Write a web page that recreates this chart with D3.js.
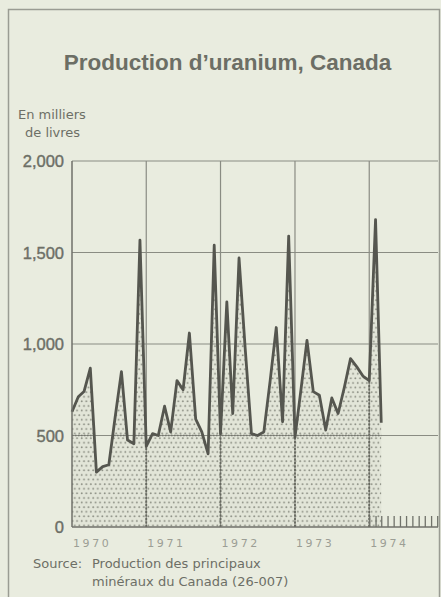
<!DOCTYPE html>
<html>
<head>
<meta charset="utf-8">
<script src="https://cdn.jsdelivr.net/npm/d3@7/dist/d3.min.js"></script>
<style>
  html, body { margin: 0; padding: 0; background: #e9ecdf; }
  svg { display: block; }
</style>
</head>
<body>
<div id="chart"></div>
<script>
// Production d'uranium, Canada — milliers de livres, données mensuelles

const annees = [1970, 1971, 1972, 1973, 1974];
const prod1970 = [630, 712, 740, 868, 300, 330, 340, 600, 849, 475, 455, 1568];
const prod1971 = [440, 510, 500, 660, 520, 800, 750, 1060, 590, 520, 400, 1540];
const prod1972 = [510, 1230, 620, 1470, 980, 510, 500, 520, 800, 1090, 575, 1590];
const prod1973 = [490, 765, 1020, 740, 720, 530, 705, 620, 765, 920, 875, 825];
const prod1974 = [800, 1680, 570];
const ticksY = [0, 500, 1000, 1500, 2000];

const largeur = 441, hauteur = 597;

// série mensuelle
const series = [prod1970, prod1971, prod1972, prod1973, prod1974];
const donnees = [];
series.forEach((vals, i) => {
  vals.forEach((v, m) => donnees.push({ date: new Date(Date.UTC(annees[i], m, 1)), valeur: v }));
});

const svg = d3.select("#chart").append("svg")
  .attr("width", largeur)
  .attr("height", hauteur);

const gris = "#6d6f66";

// cadre
svg.append("rect")
  .attr("x", 8.5).attr("y", 9.5)
  .attr("width", 431).attr("height", 600)
  .attr("fill", "#e9ecdf")
  .attr("stroke", "#9a9c93")
  .attr("stroke-width", 1.5);

// motif pointillé
const defs = svg.append("defs");
const motif = defs.append("pattern")
  .attr("id", "points")
  .attr("patternUnits", "userSpaceOnUse")
  .attr("width", 4.6).attr("height", 9.2);
motif.append("rect").attr("width", 4.6).attr("height", 9.2).attr("fill", "#e2e5d8");
motif.append("circle").attr("cx", 1.2).attr("cy", 1.2).attr("r", 0.95).attr("fill", "#8a8d82");
motif.append("circle").attr("cx", 3.5).attr("cy", 5.8).attr("r", 0.95).attr("fill", "#8a8d82");

const x = d3.scaleUtc()
  .domain([new Date(Date.UTC(1970, 0, 1)), new Date(Date.UTC(1975, 0, 1))])
  .range([72, 443.5]);
const y = d3.scaleLinear().domain([0, 2000]).range([527, 161]);
const xDroite = 438;

// surface
const aire = d3.area()
  .x(d => x(d.date))
  .y0(y(0))
  .y1(d => y(d.valeur));

defs.append("clipPath").attr("id", "clipAire")
  .append("path").attr("d", aire(donnees));

svg.append("path")
  .attr("d", aire(donnees))
  .attr("fill", "url(#points)");

// quadrillage
const grille = svg.append("g");
grille.selectAll(".h")
  .data(ticksY.filter(t => t > 0))
  .join("line")
  .attr("x1", 72).attr("x2", xDroite)
  .attr("y1", d => y(d)).attr("y2", d => y(d))
  .attr("stroke", "#8a8c83").attr("stroke-width", 1.2);

const anneesGrille = annees.slice(1).map(a => new Date(Date.UTC(a, 0, 1)));
grille.selectAll(".v")
  .data(anneesGrille)
  .join("line")
  .attr("x1", d => x(d)).attr("x2", d => x(d))
  .attr("y1", y(2000)).attr("y2", y(0))
  .attr("stroke", "#8a8c83").attr("stroke-width", 1.2);

// quadrillage renforcé dans la surface
const grilleDedans = svg.append("g").attr("clip-path", "url(#clipAire)");
grilleDedans.selectAll("line.v")
  .data(anneesGrille)
  .join("line")
  .attr("x1", d => x(d)).attr("x2", d => x(d))
  .attr("y1", y(2000)).attr("y2", y(0))
  .attr("stroke", "#66685f").attr("stroke-width", 1.8)
  .attr("stroke-dasharray", "2,1.5");
grilleDedans.selectAll("line.h")
  .data([500])
  .join("line")
  .attr("x1", 72).attr("x2", xDroite)
  .attr("y1", d => y(d)).attr("y2", d => y(d))
  .attr("stroke", "#75776f").attr("stroke-width", 1.4)
  .attr("stroke-dasharray", "1.5,1.5");

// courbe
svg.append("path")
  .datum(donnees)
  .attr("d", d3.line().x(d => x(d.date)).y(d => y(d.valeur)))
  .attr("fill", "none")
  .attr("stroke", "#55564f")
  .attr("stroke-width", 2.8)
  .attr("stroke-linejoin", "round");

// axes
svg.append("line")
  .attr("x1", 72).attr("x2", 72).attr("y1", y(2000)).attr("y2", y(0))
  .attr("stroke", "#6f716a").attr("stroke-width", 1.5);
svg.append("line")
  .attr("x1", 72).attr("x2", xDroite).attr("y1", y(0)).attr("y2", y(0))
  .attr("stroke", "#6f716a").attr("stroke-width", 1.5);

const axeY = svg.append("g")
  .attr("transform", "translate(64,0)")
  .call(d3.axisLeft(y).tickValues(ticksY).tickSize(0).tickPadding(0).tickFormat(d3.format(",")));
axeY.select(".domain").remove();
axeY.selectAll("text")
  .attr("font-family", "Liberation Sans, Arial, sans-serif")
  .attr("font-size", 16.5)
  .attr("fill", gris)
  .attr("stroke", gris)
  .attr("stroke-width", 0.4)
  .attr("dy", "0.36em");

// traits des mois de 1974
const axeMois = svg.append("g")
  .attr("transform", `translate(0,${y(0)})`)
  .call(d3.axisTop(x)
    .tickValues(d3.utcMonths(new Date(Date.UTC(1974, 0, 1)), new Date(Date.UTC(1974, 11, 31))))
    .tickSize(11).tickFormat(""));
axeMois.select(".domain").remove();
axeMois.selectAll("line").attr("stroke", "#70726a").attr("stroke-width", 1.3);

// étiquettes des années
svg.append("g").selectAll("text")
  .data(annees)
  .join("text")
  .attr("x", d => x(new Date(Date.UTC(d, 0, 1))) + 1)
  .attr("y", 547)
  .attr("font-family", "DejaVu Sans, sans-serif")
  .attr("font-size", 11)
  .attr("letter-spacing", 2.6)
  .attr("fill", "#9c9e95")
  .text(d => d);

// titres
svg.append("text")
  .attr("x", 227.5).attr("y", 70)
  .attr("text-anchor", "middle")
  .attr("font-family", "Liberation Sans, Arial, sans-serif")
  .attr("font-weight", "bold")
  .attr("font-size", 22.5)
  .attr("fill", "#6c6e65")
  .text("Production d’uranium, Canada");

const petit = (t, xx, yy) => svg.append("text")
  .attr("x", xx).attr("y", yy)
  .attr("font-family", "DejaVu Sans, sans-serif")
  .attr("font-size", 13)
  .attr("fill", gris)
  .text(t);

petit("En milliers", 18, 119);
petit("de livres", 25, 137);
petit("Source:", 33, 568);
petit("Production des principaux", 92, 568);
petit("minéraux du Canada (26-007)", 92, 586);
</script>
</body>
</html>
